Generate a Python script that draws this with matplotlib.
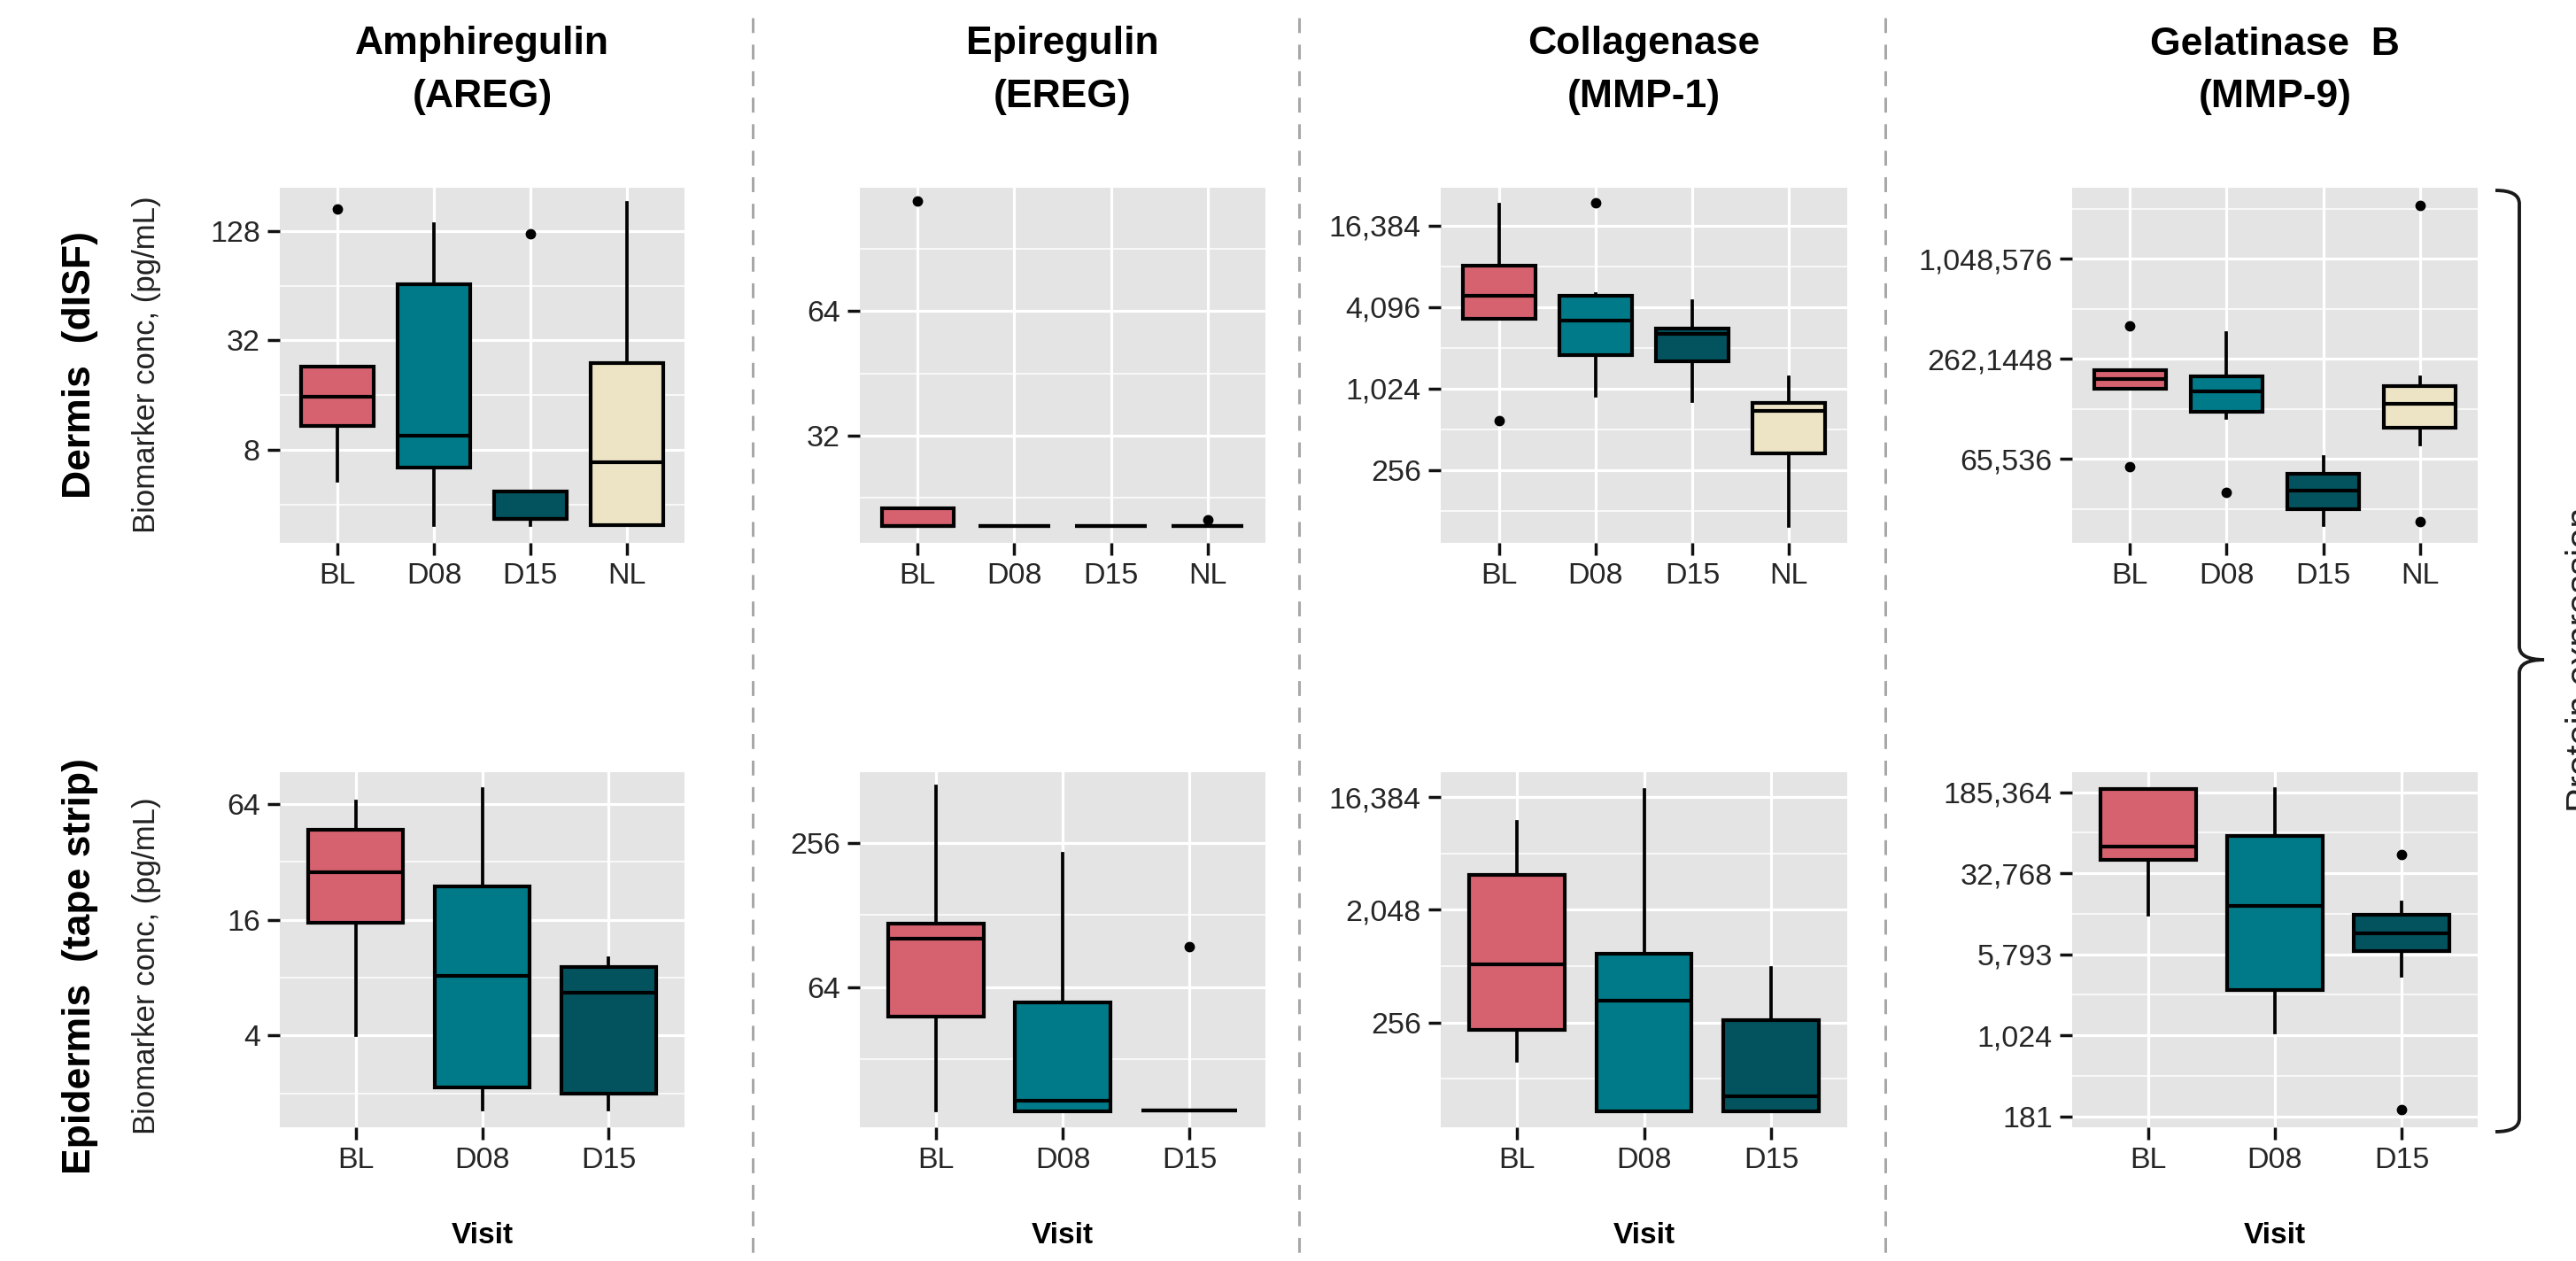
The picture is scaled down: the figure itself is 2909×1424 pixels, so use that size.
import numpy as np
import matplotlib
matplotlib.use("Agg")
import matplotlib.pyplot as plt
from matplotlib.path import Path
from matplotlib.patches import PathPatch
from matplotlib.lines import Line2D
from matplotlib.ticker import FixedLocator, FixedFormatter, NullFormatter

plt.rcParams['font.family'] = ['Liberation Sans', 'DejaVu Sans']

W, H, DPI = 2909, 1424, 100

# ---------------- data ----------------
titles_top = ["Amphiregulin", "Epiregulin", "Collagenase", "Gelatinase  B"]
titles_bot = ["(AREG)", "(EREG)", "(MMP-1)", "(MMP-9)"]
visits_dermis = ["BL", "D08", "D15", "NL"]
visits_epi = ["BL", "D08", "D15"]
visit_colors = {"BL": "#D6616F", "D08": "#007A88", "D15": "#03535F", "NL": "#EDE4C6"}

# five-number summaries per visit: [whisker low, Q1, median, Q3, whisker high]
areg_dermis = [[5.4, 10.8, 15.7, 22.9, 22.9], [3.08, 6.4, 9.6, 65, 140],
               [3.08, 3.34, 3.34, 4.7, 4.7], [3.08, 3.08, 6.8, 24, 183]]
areg_dermis_out = [[169], [], [124], []]
ereg_dermis = [[19.4, 19.4, 19.4, 21.4, 21.4], [19.4, 19.4, 19.4, 19.4, 19.4],
               [19.4, 19.4, 19.4, 19.4, 19.4], [19.4, 19.4, 19.4, 19.4, 19.4]]
ereg_dermis_out = [[118], [], [], [20.0]]
mmp1_dermis = [[3330, 3330, 4980, 8300, 23300], [910, 1820, 3260, 4980, 5150],
               [826, 1630, 2610, 2860, 4540], [98, 338, 704, 797, 1245]]
mmp1_dermis_out = [[597], [24200], [], []]
mmp9_dermis = [[173000, 173000, 197000, 225000, 225000], [115000, 126000, 167000, 206000, 376000],
               [26000, 32800, 42000, 53300, 67000], [79500, 101000, 141000, 180000, 203000]]
mmp9_dermis_out = [[416000, 58600], [41000], [], [2200000, 27300]]

areg_epi = [[4.0, 15.5, 28.2, 46.8, 66], [1.65, 2.16, 8.2, 23.8, 77], [1.65, 2.0, 6.7, 9.1, 10.1]]
areg_epi_out = [[], [], []]
ereg_epi = [[19.6, 48.2, 102, 118, 439], [19.4, 19.4, 21.5, 55.4, 231], [19.6, 19.6, 19.6, 19.6, 19.6]]
ereg_epi_out = [[], [], [94]]
mmp1_epi = [[127, 223, 750, 3870, 10300], [50, 50, 383, 916, 18800], [50, 50, 65.3, 265, 705]]
mmp1_epi_out = [[], [], []]
mmp9_epi = [[13500, 44000, 57500, 200000, 200000], [1080, 2720, 16400, 72500, 197000],
            [3660, 6160, 9100, 13400, 17600]]
mmp9_epi_out = [[], [], [48600, 209]]

# y-axis breaks and labels
areg_dermis_ticks = [8, 32, 128]
areg_dermis_labels = ["8", "32", "128"]
ereg_dermis_ticks = [32, 64]
ereg_dermis_labels = ["32", "64"]
mmp1_dermis_ticks = [256, 1024, 4096, 16384]
mmp1_dermis_labels = ["256", "1,024", "4,096", "16,384"]
mmp9_dermis_ticks = [65536, 262144, 1048576]
mmp9_dermis_labels = ["65,536", "262,1448", "1,048,576"]
areg_epi_ticks = [4, 16, 64]
areg_epi_labels = ["4", "16", "64"]
ereg_epi_ticks = [64, 256]
ereg_epi_labels = ["64", "256"]
mmp1_epi_ticks = [256, 2048, 16384]
mmp1_epi_labels = ["256", "2,048", "16,384"]
mmp9_epi_ticks = [2 ** 7.5, 2 ** 10, 2 ** 12.5, 2 ** 15, 2 ** 17.5]
mmp9_epi_labels = ["181", "1,024", "5,793", "32,768", "185,364"]

# ---------------- layout (pixels) ----------------
col_x = [(316, 773), (971, 1429), (1627, 2086), (2340, 2798)]
row_y = [(212, 613), (872, 1273)]
ylims_log2 = [[(1.30, 7.79), (4.14, 6.99), (6.21, 14.93), (14.32, 21.42)],
              [(0.415, 6.55), (4.055, 8.98), (5.21, 14.66), (7.16, 18.12)]]

panels = [
    [(areg_dermis, areg_dermis_out, areg_dermis_ticks, areg_dermis_labels),
     (ereg_dermis, ereg_dermis_out, ereg_dermis_ticks, ereg_dermis_labels),
     (mmp1_dermis, mmp1_dermis_out, mmp1_dermis_ticks, mmp1_dermis_labels),
     (mmp9_dermis, mmp9_dermis_out, mmp9_dermis_ticks, mmp9_dermis_labels)],
    [(areg_epi, areg_epi_out, areg_epi_ticks, areg_epi_labels),
     (ereg_epi, ereg_epi_out, ereg_epi_ticks, ereg_epi_labels),
     (mmp1_epi, mmp1_epi_out, mmp1_epi_ticks, mmp1_epi_labels),
     (mmp9_epi, mmp9_epi_out, mmp9_epi_ticks, mmp9_epi_labels)],
]
row_visits = [visits_dermis, visits_epi]

fig = plt.figure(figsize=(W / DPI, H / DPI), dpi=DPI)
fig.patch.set_facecolor("white")


def fx(x):
    return x / W


def fy(y):
    return 1 - y / H


LW = 3.0
for r in range(2):
    for c in range(4):
        x0, x1 = col_x[c]
        y0, y1 = row_y[r]
        ax = fig.add_axes([fx(x0), fy(y1), (x1 - x0) / W, (y1 - y0) / H])
        summ, outs, ticks, labels = panels[r][c]
        visits = row_visits[r]
        stats = []
        for s, o in zip(summ, outs):
            stats.append(dict(whislo=s[0], q1=s[1], med=s[2], q3=s[3], whishi=s[4], fliers=o))
        pos = np.arange(1, len(visits) + 1)
        bp = ax.bxp(stats, positions=pos, widths=0.75, patch_artist=True, showcaps=False,
                    boxprops=dict(edgecolor="black", linewidth=LW),
                    medianprops=dict(color="black", linewidth=LW, solid_capstyle="butt"),
                    whiskerprops=dict(color="black", linewidth=LW * 0.9),
                    flierprops=dict(marker="o", markerfacecolor="black", markeredgecolor="black",
                                    markersize=7.5, linestyle="none"),
                    zorder=3)
        for patch, v in zip(bp["boxes"], visits):
            patch.set_facecolor(visit_colors[v])
            patch.set_joinstyle("miter")
        ax.set_yscale("log", base=2)
        lo, hi = ylims_log2[r][c]
        ax.set_ylim(2 ** lo, 2 ** hi)
        ax.set_xlim(0.4, len(visits) + 0.6)
        ax.set_facecolor("#E4E4E4")
        for sp in ax.spines.values():
            sp.set_visible(False)
        ax.yaxis.set_major_locator(FixedLocator(ticks))
        ax.yaxis.set_major_formatter(FixedFormatter(labels))
        lt = np.log2(ticks)
        step = lt[1] - lt[0]
        minors = [t - step / 2 for t in lt] + [lt[-1] + step / 2]
        minors = [2 ** m for m in minors if lo + 0.02 < m < hi - 0.02]
        ax.yaxis.set_minor_locator(FixedLocator(minors))
        ax.yaxis.set_minor_formatter(NullFormatter())
        ax.set_xticks(pos)
        ax.set_xticklabels(visits)
        ax.set_axisbelow(True)
        ax.grid(True, which="major", color="white", linewidth=2.3)
        ax.grid(True, which="minor", axis="y", color="white", linewidth=1.1)
        ax.tick_params(axis="both", which="major", length=10, width=2.5, color="#111111",
                       labelsize=24.5, labelcolor="#262626", pad=6)
        ax.tick_params(axis="y", which="minor", length=0)
        cx = (x0 + x1) / 2
        if r == 0:
            fig.text(fx(cx), fy(50), titles_top[c], ha="center", va="center",
                     fontsize=32, fontweight="bold")
            fig.text(fx(cx), fy(110), titles_bot[c], ha="center", va="center",
                     fontsize=32, fontweight="bold")
        else:
            fig.text(fx(cx), fy(1396), "Visit", ha="center", va="center",
                     fontsize=24, fontweight="bold")

# row labels
fig.text(fx(91), fy(412), "Dermis  (dISF)", rotation=90, ha="center", va="center",
         fontsize=32, fontweight="bold")
fig.text(fx(166), fy(412), "Biomarker conc, (pg/mL)", rotation=90, ha="center", va="center",
         fontsize=25, color="#222222")
fig.text(fx(91), fy(1091), "Epidermis  (tape strip)", rotation=90, ha="center", va="center",
         fontsize=32, fontweight="bold")
fig.text(fx(166), fy(1091), "Biomarker conc, (pg/mL)", rotation=90, ha="center", va="center",
         fontsize=25, color="#222222")

# dashed separators
for xs in [850, 1467, 2129]:
    fig.add_artist(Line2D([fx(xs), fx(xs)], [fy(20), fy(1424)], transform=fig.transFigure,
                          color="#A8A8A8", linewidth=2.2, linestyle=(0, (5.5, 4.3))))

# right bracket
verts = [(2818, 215), (2845, 215), (2845, 230), (2845, 730), (2845, 745), (2873, 745),
         (2845, 745), (2845, 760), (2845, 1263), (2845, 1278), (2818, 1278)]
codes = [Path.MOVETO, Path.CURVE3, Path.CURVE3, Path.LINETO, Path.CURVE3, Path.CURVE3,
         Path.CURVE3, Path.CURVE3, Path.LINETO, Path.CURVE3, Path.CURVE3]
verts_f = [(fx(x), fy(y)) for x, y in verts]
fig.add_artist(PathPatch(Path(verts_f, codes), transform=fig.transFigure, facecolor="none",
                         edgecolor="#1A1A1A", linewidth=2.8))
fig.text(fx(2897), fy(745), "Protein expression", rotation=90, ha="left", va="center",
         fontsize=30, color="#222222")

fig.savefig("out.png", dpi=DPI)
